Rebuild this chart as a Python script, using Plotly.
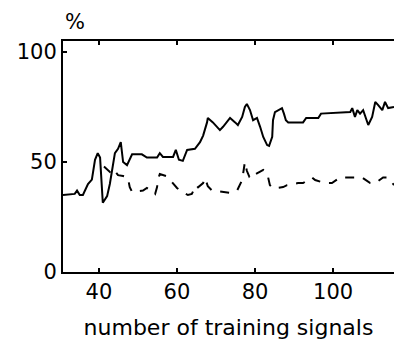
import plotly.graph_objects as go

# Solid curve (upper)
solid_x = [30.8, 33.8, 34.4, 35.1, 35.9, 36.4, 37.2, 38.2, 39.0, 39.7, 40.3, 41.0, 42.1, 42.8, 43.3,
           44.1, 44.9, 45.6, 46.2, 47.2, 48.5, 51.0, 52.3, 54.9, 55.6, 56.4, 59.0, 59.7, 60.5, 61.5,
           62.6, 64.6, 65.9, 66.7, 67.7, 67.9, 69.2, 71.0, 71.8, 72.8, 73.6, 74.9, 75.6, 76.7, 77.4,
           77.9, 78.7, 79.5, 80.5, 81.3, 82.1, 83.1, 83.6, 84.4, 84.6, 85.1, 85.9, 86.9, 87.4, 87.9,
           88.5, 92.3, 93.1, 96.2, 96.9, 104.4, 104.9, 105.6, 106.2, 106.9, 107.7, 108.7, 109.0,
           110.0, 110.8, 111.5, 112.6, 113.3, 114.1, 115.6]
solid_y = [35, 35.5, 37, 35, 35, 37, 40, 42, 51, 54, 52, 31.5, 34.5, 40, 46,
           54, 56, 59, 50, 48.6, 53.5, 53.5, 52, 52, 54, 52.3, 52.3, 55.5, 51, 50.5,
           55.5, 56, 59, 62, 68, 70, 68, 64.5, 66, 68, 70, 68, 66.8, 70.5, 75,
           76.4, 73.6, 69, 70, 66, 61.4, 57.7, 57.3, 61.4, 69, 72.7, 73.6, 74.5, 72, 69,
           68, 68, 70, 70, 72, 72.7, 74.5, 70.5, 73.6, 72, 73.6, 67.7, 66.8,
           70.5, 77.3, 76, 73.6, 77.3, 74.5, 75]

# Dashed curve (lower)
dash_x = [41.3, 42.8, 43.6, 44.1, 44.9, 46.2, 47.4, 47.9, 48.5, 49.2, 51.3, 52.3, 53.6, 54.4, 54.9,
          55.1, 55.6, 57.4, 58.2, 60.0, 61.3, 62.8, 63.8, 64.9, 65.4, 66.7, 67.2, 67.9, 69.0, 71.0,
          73.6, 75.4, 76.7, 77.4, 77.9, 78.5, 79.2, 79.7, 82.1, 83.1, 83.8, 84.6, 87.2, 88.2, 91.0,
          92.3, 94.6, 95.4, 96.2, 97.9, 99.7, 101.8, 103.6, 105.6, 107.4, 109.5, 110.8, 112.8,
          114.1, 115.6]
dash_y = [48, 45.5, 47, 46, 44, 43.6, 43, 38.6, 36.4, 36.6, 37, 38.2, 36.8, 35.5, 38.6,
          42, 44.5, 43.5, 41.8, 38.2, 36.5, 35, 35.5, 39.5, 38.5, 40.4, 42.7, 39, 37, 36.5,
          36, 37, 41.8, 50, 46, 43.5, 45, 44, 46.4, 45, 39.5, 38, 38.6, 39.5, 40.4,
          40.4, 43, 41.8, 41.4, 40.4, 40.4, 43, 43, 43, 43, 40.4, 40.4, 43,
          43, 39.5]

x_ticks = [40, 60, 80, 100]
y_ticks = [0, 50, 100]

font_family = "DejaVu Sans, Liberation Sans, sans-serif"

fig = go.Figure()
fig.add_trace(go.Scatter(x=solid_x, y=solid_y, mode="lines",
                         line=dict(color="black", width=2), showlegend=False))
fig.add_trace(go.Scatter(x=dash_x, y=dash_y, mode="lines",
                         line=dict(color="black", width=2, dash="dash"), showlegend=False))

fig.update_layout(
    width=394, height=347,
    margin=dict(l=63, r=0, t=41, b=75),
    paper_bgcolor="white", plot_bgcolor="white",
    font=dict(family=font_family, size=21, color="black"),
    xaxis=dict(range=[30.8, 115.6], tickvals=x_ticks, ticks="inside", ticklen=4,
               tickwidth=2, tickcolor="black", showline=True, linecolor="black",
               linewidth=2, mirror="ticks", showgrid=False, zeroline=False,
               automargin=False,
               title=dict(text="number of training signals", font=dict(size=22), standoff=16)),
    yaxis=dict(range=[0, 105], tickvals=y_ticks, ticks="inside", ticklen=4,
               tickwidth=2, tickcolor="black", showline=True, linecolor="black",
               linewidth=2, mirror=False, showgrid=False, zeroline=False,
               automargin=False),
    annotations=[dict(text="%", xref="paper", yref="paper", x=0.036, y=1.082,
                      xanchor="center", yanchor="middle", showarrow=False,
                      font=dict(size=21))],
)

fig.write_html(
    "out.html",
    config={"displayModeBar": False},
    post_script="document.body.style.margin='0';document.body.style.overflow='hidden';",
)
